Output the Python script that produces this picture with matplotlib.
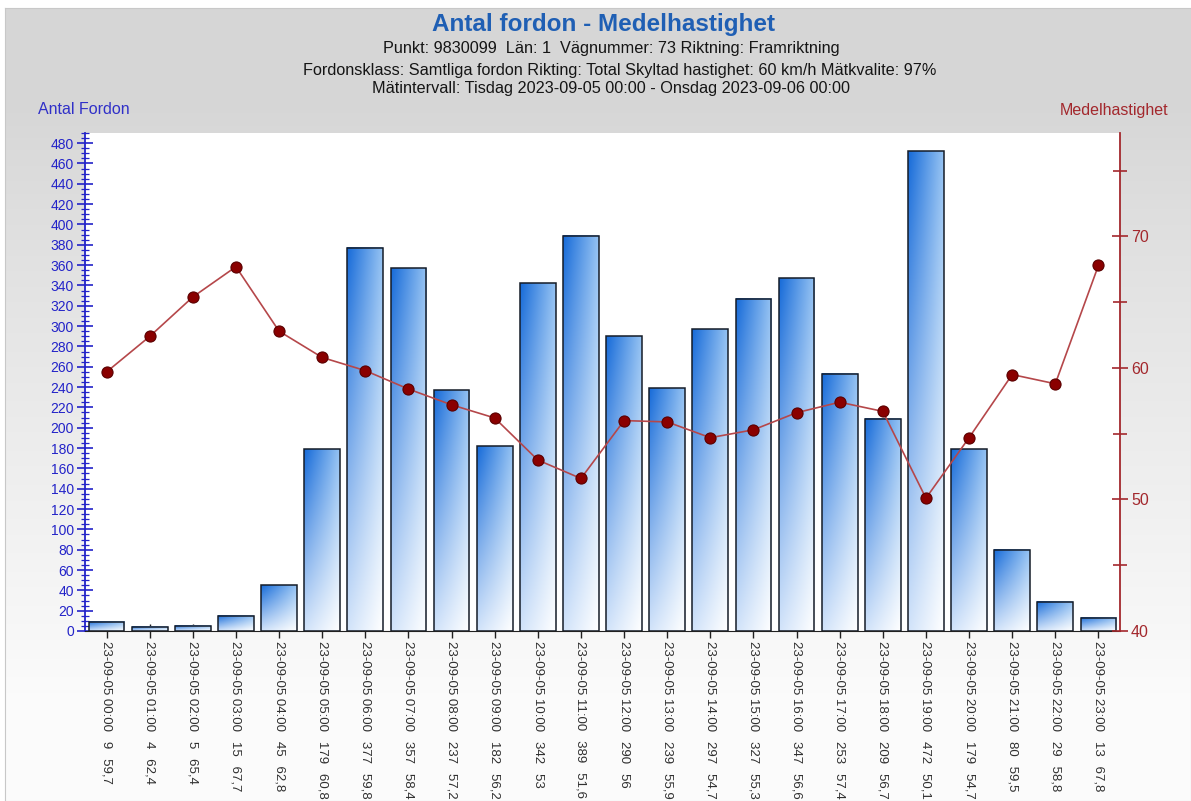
import numpy as np
import matplotlib
matplotlib.use("Agg")
import matplotlib.pyplot as plt
from matplotlib.patches import Rectangle
from matplotlib.ticker import MultipleLocator

plt.rcParams['font.family'] = ['Liberation Sans', 'DejaVu Sans']

hours = ['00:00', '01:00', '02:00', '03:00', '04:00', '05:00', '06:00', '07:00',
         '08:00', '09:00', '10:00', '11:00', '12:00', '13:00', '14:00', '15:00',
         '16:00', '17:00', '18:00', '19:00', '20:00', '21:00', '22:00', '23:00']
antal = [9, 4, 5, 15, 45, 179, 377, 357, 237, 182, 342, 389, 290, 239, 297, 327,
         347, 253, 209, 472, 179, 80, 29, 13]
hastighet = [59.7, 62.4, 65.4, 67.7, 62.8, 60.8, 59.8, 58.4, 57.2, 56.2, 53, 51.6,
             56, 55.9, 54.7, 55.3, 56.6, 57.4, 56.7, 50.1, 54.7, 59.5, 58.8, 67.8]

sep = '  \u2009'
labels = ['23-09-05 %s%s%d%s%s' % (h, sep, a, sep, ('%g' % v).replace('.', ','))
          for h, a, v in zip(hours, antal, hastighet)]

W, H = 1191, 801
fig = plt.figure(figsize=(W / 100, H / 100), dpi=100)
fig.patch.set_facecolor('white')

# grey panel with vertical fade
bg = fig.add_axes([5 / W, 0, 1 - 5 / W, (H - 8) / H])
bg.set_zorder(-10)
grad = np.linspace(0, 1, 256)
top = np.array([0.84, 0.84, 0.84])
bot = np.array([0.985, 0.985, 0.985])
shade = np.clip((grad - 0.12) / 0.75, 0, 1) ** 0.9
img = top[None, :] * (1 - shade[:, None]) + bot[None, :] * shade[:, None]
bg.imshow(img[:, None, :], aspect='auto', extent=[0, 1, 0, 1], origin='upper')
bg.set_xlim(0, 1)
bg.set_ylim(0, 1)
bg.set_xticks([])
bg.set_yticks([])
for s in bg.spines.values():
    s.set_color('#c8c8c8')
    s.set_linewidth(0.8)

ax = fig.add_axes([85 / W, (H - 631) / H, (1120 - 85) / W, (631 - 133) / H])
ax.set_facecolor('white')
x = np.arange(len(antal))
bw = 0.83

# per-bar bilinear gradient: dark blue top-left -> white bottom-right
tl = np.array([0.09, 0.42, 0.85])
tr = np.array([0.58, 0.76, 0.95])
bl = np.array([0.82, 0.89, 0.98])
br = np.array([1.0, 1.0, 1.0])
u = np.linspace(0, 1, 40)[None, :, None]
v = np.linspace(0, 1, 100)[:, None, None]
bar_img = (tl * (1 - u) * (1 - v) + tr * u * (1 - v) + bl * (1 - u) * v + br * u * v)

for xi, a in zip(x, antal):
    ax.imshow(bar_img, aspect='auto', extent=[xi - bw / 2, xi + bw / 2, 0, a],
              origin='upper', zorder=2, interpolation='bilinear')
    ax.add_patch(Rectangle((xi - bw / 2, 0), bw, a, fill=False,
                           edgecolor='#151c28', linewidth=1.1, zorder=3))

ax.set_xlim(-0.5, len(antal) - 0.5)
ax.set_ylim(0, 490)
ax.set_xticks(x)
ax.set_xticklabels(labels, rotation=270, fontsize=9.5, color='#303030', va='top', ha='center')
ax.tick_params(axis='x', direction='inout', length=10, width=1, color='#202020', pad=2)

blue = '#2323c8'
ax.yaxis.set_major_locator(MultipleLocator(20))
ax.yaxis.set_minor_locator(MultipleLocator(5))
ax.tick_params(axis='y', which='major', direction='inout', length=12, width=1.2,
               colors=blue, labelsize=10, pad=2)
ax.tick_params(axis='y', which='minor', direction='inout', length=6, width=0.9, color=blue)
ax.spines['left'].set_color(blue)
ax.spines['left'].set_linewidth(1.3)
ax.spines['bottom'].set_color('#202020')
ax.spines['top'].set_visible(False)
ax.spines['right'].set_visible(False)

red = '#a3282d'
ax2 = ax.twinx()
ax2.plot(x, hastighet, color='#b5474a', linewidth=1.2, marker='o', markersize=8,
         markerfacecolor='#8a0000', markeredgecolor='#5a0000', markeredgewidth=0.8, zorder=5)
ax2.set_ylim(40, 77.87)
ax2.yaxis.set_major_locator(MultipleLocator(10))
ax2.yaxis.set_minor_locator(MultipleLocator(5))
ax2.tick_params(axis='y', which='major', direction='inout', length=12, width=1.2,
                colors=red, labelsize=11.5, pad=2)
ax2.tick_params(axis='y', which='minor', direction='inout', length=10, width=1.2, color=red)
ax2.spines['right'].set_color(red)
ax2.spines['right'].set_linewidth(1.3)
ax2.spines['top'].set_visible(False)
ax2.spines['left'].set_visible(False)
ax2.spines['bottom'].set_visible(False)
ax2.set_xlim(-0.5, len(antal) - 0.5)

fig.text(603 / W, 1 - 24 / H, 'Antal fordon - Medelhastighet', ha='center', va='center',
         fontsize=17.5, fontweight='bold', color='#1f5fb4')
fig.text(611 / W, 1 - 48 / H, 'Punkt: 9830099  Län: 1  Vägnummer: 73 Riktning: Framriktning',
         ha='center', va='center', fontsize=11.7, color='#151515')
fig.text(620 / W, 1 - 70 / H,
         'Fordonsklass: Samtliga fordon Rikting: Total Skyltad hastighet: 60 km/h Mätkvalite: 97%',
         ha='center', va='center', fontsize=11.7, color='#151515')
fig.text(611 / W, 1 - 89 / H, 'Mätintervall: Tisdag 2023-09-05 00:00 - Onsdag 2023-09-06 00:00',
         ha='center', va='center', fontsize=11.7, color='#151515')
fig.text(38 / W, 1 - 110 / H, 'Antal Fordon', ha='left', va='center', fontsize=11.5, color='#3030c8')
fig.text(1168 / W, 1 - 110 / H, 'Medelhastighet', ha='right', va='center', fontsize=11.5, color=red)

fig.savefig('out.png', dpi=100)
